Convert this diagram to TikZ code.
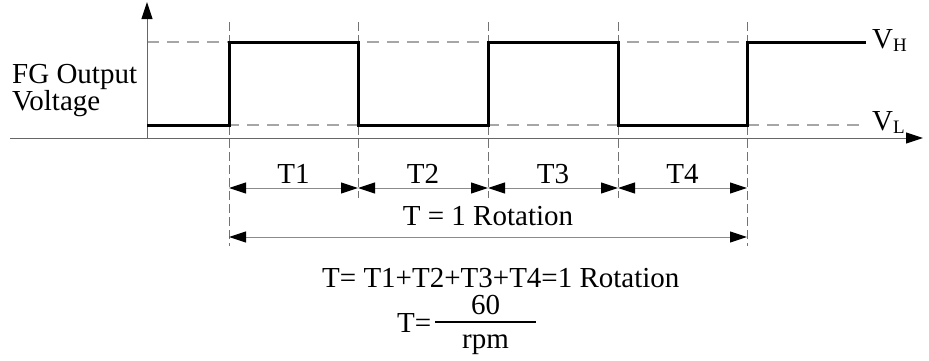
\documentclass[tikz,border=0pt]{standalone}
\usepackage{fontspec}
\setmainfont{Liberation Serif}
\usetikzlibrary{arrows.meta}
\begin{document}
\begin{tikzpicture}[x=1pt,y=-1pt,
  lbl/.style={font=\fontsize{29}{34}\selectfont, inner sep=0pt},
  sig/.style={draw=black, line width=3pt, line join=miter},
  levelref/.style={draw=black!35, line width=1.5pt, dash pattern=on 12pt off 8pt},
  guide/.style={draw=black!55, line width=0.9pt, dash pattern=on 9pt off 4pt},
  axis/.style={draw=black!60, line width=1pt, -{Triangle[length=17pt,width=11pt,color=black]}},
  dim/.style={draw=black!45, line width=1pt, {Triangle[length=17pt,width=11pt,color=black]}-{Triangle[length=17pt,width=11pt,color=black]}}
]
\useasboundingbox (0,0) rectangle (929,360);
% key coordinates
\coordinate (xl) at (10,138);
\coordinate (xr) at (923,138);
\coordinate (yb) at (147,138);
\coordinate (yt) at (147,2);
\coordinate (h0) at (147,42);
\coordinate (l0) at (147,125);
\coordinate (hend) at (866,42);
\coordinate (lend) at (866,125);
\coordinate (e0) at (229,0);
\coordinate (e1) at (358,0);
\coordinate (e2) at (488,0);
\coordinate (e3) at (618,0);
\coordinate (e4) at (747,0);
\coordinate (gt) at (0,22);
\coordinate (gs) at (0,198);
\coordinate (gl) at (0,246);
\coordinate (da) at (0,188);
\coordinate (db) at (0,237);
% reference levels
\draw[levelref] (h0) -- (hend);
\draw[levelref] (l0) -- (lend);
% guides
\draw[guide] (e0 |- gt) -- (e0 |- gl);
\draw[guide] (e1 |- gt) -- (e1 |- gs);
\draw[guide] (e2 |- gt) -- (e2 |- gs);
\draw[guide] (e3 |- gt) -- (e3 |- gs);
\draw[guide] (e4 |- gt) -- (e4 |- gl);
% axes
\draw[axis] (xl) -- (xr);
\draw[axis] (yb) -- (yt);
% signal
\draw[sig] (l0) -- (e0 |- l0) -- (e0 |- h0) -- (e1 |- h0) -- (e1 |- l0) -- (e2 |- l0) -- (e2 |- h0)
  -- (e3 |- h0) -- (e3 |- l0) -- (e4 |- l0) -- (e4 |- h0) -- (hend);
% dimension arrows
\draw[dim] (e0 |- da) -- (e1 |- da);
\draw[dim] (e1 |- da) -- (e2 |- da);
\draw[dim] (e2 |- da) -- (e3 |- da);
\draw[dim] (e3 |- da) -- (e4 |- da);
\draw[dim] (e0 |- db) -- (e4 |- db);
% labels
\node[lbl, anchor=base west] (fg1) at (12,83) {FG Output};
\node[lbl, anchor=base west] (fg2) at (12,110) {Voltage};
\node[lbl, anchor=base west] (vh) at (872,48) {V\raisebox{-3pt}{\fontsize{19}{19}\selectfont H}};
\node[lbl, anchor=base west] (vl) at (872,130) {V\raisebox{-3pt}{\fontsize{19}{19}\selectfont L}};
\node[lbl, anchor=base] (t1) at (293.5,183) {T1};
\node[lbl, anchor=base] (t2) at (423,183) {T2};
\node[lbl, anchor=base] (t3) at (553,183) {T3};
\node[lbl, anchor=base] (t4) at (682.5,183) {T4};
\node[lbl, anchor=base] (trot) at (488,225) {T = 1 Rotation};
\node[lbl, anchor=base west] (f1) at (322,287) {T= T1+T2+T3+T4=1 Rotation};
\node[lbl, anchor=base west] (teq) at (397,332) {T=};
\coordinate (bl) at (435,322);
\coordinate (br) at (536,322);
\draw[line width=1.3pt] (bl) -- (br);
\node[lbl, anchor=base] (num) at (485.5,314) {60};
\node[lbl, anchor=base] (den) at (485.5,348) {rpm};
\end{tikzpicture}
\end{document}
